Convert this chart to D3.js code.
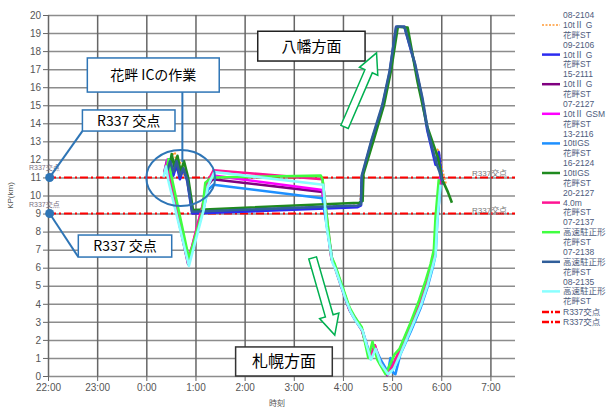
<html>
<head>
<script src="https://d3js.org/d3.v7.min.js"></script>
<style>
  body { margin: 0; background: #fff; }
  .grid line { stroke: #8c8c8c; stroke-width: 1.5; }
  .grid .domain { stroke: none; }
  .vgrid line { stroke: #666; stroke-width: 1.5; }
  .vgrid .domain { stroke: none; }
  .axis text { font-family: "Liberation Sans", Arial, sans-serif; font-size: 10px; fill: #555; }
  .axis line { stroke: #666; }
  .axis .domain { stroke: none; }
  .legend text { font-family: "Liberation Sans", "Noto Sans CJK JP", sans-serif; font-size: 8.5px; fill: #4d5b7c; }
  .reflabel { font-family: "Liberation Sans", "Noto Sans CJK JP", sans-serif; fill: #7a6f7f; }
</style>
</head>
<body>
<svg id="chart" width="609" height="410"></svg>
<script>
// ---- data ----
const seriesNames = ["08-2104", "09-2106", "15-2111", "07-2127", "13-2116", "16-2124", "20-2127", "07-2137", "07-2138", "08-2135"];
const seriesTypes = ["10tⅡ G", "10tⅡ G", "10tⅡ G", "10tⅡ GSM", "10tIGS", "10tIGS", "4.0m", "高速駐正形", "高速駐正形", "高速駐正形"];
const seriesStation = "花畔ST";
const seriesColors = ["#ff9933", "#2b2bf0", "#800080", "#ff00ff", "#1e90ff", "#1f8a1f", "#ff1493", "#40ff40", "#305e9a", "#8affff"];

const s0821 = [["0:27",11.4],["0:31",12.2],["0:35",12.4],["0:37",11.4],["0:41",11.9],["0:45",11.2],["0:49",10.9],["0:57",9.1],["4:17",9.45],["4:21",9.5],["4:23",11.1],["4:36",13.1],["4:49",15.0],["4:58",17.0],["5:06",19.35],["5:16",19.35],["5:28",17.3],["5:37",15.4],["5:44",13.5],["5:52",12.2],["5:56",12.6],["6:02",11.3],["6:06",10.6]];
const s0921 = [["0:26",11.3],["0:29",12.0],["0:33",11.1],["0:37",11.7],["0:41",10.9],["0:45",11.5],["0:50",10.8],["0:56",9.0],["4:18",9.35],["4:22",9.45],["4:23",11.0],["4:35",13.0],["4:48",14.9],["4:57",16.8],["5:05",19.35],["5:15",19.35],["5:27",17.4],["5:36",15.5],["5:43",13.6],["5:53",11.7],["5:57",12.4],["6:01",10.9],["6:03",10.6]];
const s1521 = [["0:22",11.3],["0:25",11.9],["0:28",11.0],["0:51",6.2],["1:09",9.4],["1:14",10.5],["1:21",10.9],["3:35",10.2],["3:46",6.5],["3:50",6.05],["4:02",4.4],["4:08",3.65],["4:14",3.2],["4:23",2.55],["4:33",1.0],["4:39",1.6],["4:45",0.7],["4:54",0.05],["5:01",0.5],["5:09",1.35],["5:22",2.7],["5:34",4.0],["5:42",5.1],["5:48",6.05],["5:52",6.8],["5:54",8.6],["5:58",10.7]];
const s0721a = [["0:23",11.4],["0:26",12.0],["0:29",11.1],["0:51",6.3],["1:09",9.5],["1:14",10.6],["1:22",11.1],["3:35",10.3],["3:46",6.6],["3:50",6.1],["4:02",4.5],["4:08",3.7],["4:14",3.3],["4:23",2.6],["4:33",1.1],["4:39",1.7],["4:45",0.8],["4:54",0.1],["5:01",0.6],["5:09",1.4],["5:22",2.8],["5:34",4.1],["5:42",5.2],["5:48",6.1],["5:52",6.9],["5:54",8.7],["5:58",10.8],["5:59",11.1]];
const s1321 = [["0:23",11.2],["0:26",11.7],["0:29",10.9],["0:52",6.4],["1:10",9.3],["1:15",10.3],["1:22",10.6],["3:35",9.85],["3:47",6.4],["3:51",6.0],["4:03",4.3],["4:09",3.6],["4:15",3.1],["4:24",2.5],["4:34",1.0],["4:40",1.5],["4:46",0.9],["4:55",0.2],["4:58",1.0],["5:01",0.2],["5:04",0.1],["5:10",1.2],["5:23",2.5],["5:35",3.8],["5:43",4.9],["5:49",5.9],["5:53",6.7],["5:55",8.5],["5:59",10.5]];
const s1621 = [["0:28",11.5],["0:31",12.3],["0:34",11.6],["0:38",12.2],["0:42",11.3],["0:46",11.9],["0:51",11.0],["0:57",9.2],["4:20",9.6],["4:24",9.7],["4:25",11.2],["4:37",13.0],["4:50",15.0],["4:59",17.0],["5:07",19.35],["5:19",19.3],["5:31",16.3],["5:43",13.8],["5:56",12.1],["6:01",10.9],["6:08",10.2],["6:13",9.6]];
const s2021 = [["0:22",11.2],["0:25",11.7],["0:28",11.0],["0:51",6.3],["1:09",9.5],["1:14",10.7],["1:22",11.4],["3:35",10.9],["3:46",6.5],["3:50",6.1],["4:02",4.5],["4:08",3.7],["4:14",3.2],["4:23",2.6],["4:33",1.0],["4:39",1.7],["4:45",0.8],["4:54",0.1],["5:01",0.6],["5:09",1.4],["5:22",2.8],["5:34",4.1],["5:42",5.1],["5:48",6.1],["5:52",6.9],["5:54",8.7],["5:58",10.8]];
const s0721b = [["0:24",11.2],["0:27",12.0],["0:30",11.2],["0:52",6.5],["1:08",9.0],["1:12",10.7],["1:20",11.0],["3:33",11.1],["3:35",10.9],["3:46",6.6],["3:50",6.2],["4:02",4.6],["4:08",3.8],["4:14",3.3],["4:23",2.7],["4:31",1.0],["4:36",1.9],["4:42",0.9],["4:52",0.1],["4:59",0.8],["5:03",1.2],["5:09",1.5],["5:22",2.9],["5:33",4.2],["5:41",5.3],["5:47",6.2],["5:51",7.0],["5:53",8.8],["5:57",10.9]];
const s0721c = [["0:26",11.4],["0:29",11.9],["0:33",11.3],["0:37",11.9],["0:41",11.1],["0:45",11.5],["0:50",10.9],["0:56",9.1],["4:18",9.45],["4:22",9.5],["4:23",11.1],["4:35",13.1],["4:48",15.0],["4:57",16.9],["5:05",19.35],["5:15",19.35],["5:28",17.3],["5:37",15.4],["5:44",13.5],["5:54",11.8],["5:58",11.3],["6:01",10.8]];
const s0821b = [["0:21",11.0],["0:24",11.6],["0:27",10.8],["0:52",6.1],["1:10",9.2],["1:15",10.5],["1:23",11.3],["3:36",10.6],["3:40",8.3],["3:47",6.3],["3:51",5.9],["4:03",4.3],["4:09",3.6],["4:15",3.1],["4:24",2.5],["4:34",0.9],["4:40",1.5],["4:46",0.7],["4:55",0.1],["5:02",0.4],["5:10",1.2],["5:23",2.6],["5:35",3.9],["5:43",5.0],["5:49",6.0],["5:53",6.7],["5:55",8.5],["5:59",10.6]];
const seriesValues = [s0821, s0921, s1521, s0721a, s1321, s1621, s2021, s0721b, s0721c, s0821b];

const refNames = ["R337交点", "R337交点"];
const refValues = [11, 9];

const xTickLabels = ["22:00", "23:00", "0:00", "1:00", "2:00", "3:00", "4:00", "5:00", "6:00", "7:00"];
const yTicks = d3.range(0, 21);

// annotations, in chart units (time, KP)
const textBoxes = [
  { text: "八幡方面", t0: "2:16", t1: "4:27", kpTop: 19.1, kpBottom: 17.45, border: "#222", size: 15 },
  { text: "花畔 ICの作業", t0: "22:48", t1: "1:29", kpTop: 17.62, kpBottom: 15.73, border: "#2e75b6", size: 14 },
  { text: "R337 交点", t0: "22:42", t1: "0:35", kpTop: 14.74, kpBottom: 13.57, border: "#2e75b6", size: 14 },
  { text: "R337 交点", t0: "22:37", t1: "0:31", kpTop: 7.81, kpBottom: 6.59, border: "#2e75b6", size: 14 },
  { text: "札幌方面", t0: "1:49", t1: "3:47", kpTop: 1.61, kpBottom: 0, border: "#333", size: 16 }
];
const leaders = [
  [["0:44", 15.73], ["0:44", 11.86]],
  [["22:02", 11.0], ["22:42", 13.57]],
  [["22:02", 9.0], ["22:37", 6.59]]
];
const dots = [["22:02", 11.0], ["22:02", 9.0]];
const arrows = [
  [["4:02", 13.8], ["4:41", 17.9]],
  [["3:23", 6.54], ["3:50", 2.27]]
];

// ---- chart ----
const svg = d3.select("svg#chart");
const mLeft = 48, mRight = 515, mTop = 15, mBottom = 376;

// hours after 22:00
function hrs(s) {
  const [h, m] = s.split(":").map(Number);
  return (h >= 12 ? h - 22 : h + 2) + m / 60;
}

const x = d3.scaleLinear().domain([0, 9.5]).range([mLeft, mRight]);
const y = d3.scaleLinear().domain([0, 20]).range([mBottom, mTop]);
const X = s => x(hrs(s));

let annotations = svg.append("g").attr("id", "annotations");

annotations.append("g")
  .attr("class", "grid")
  .attr("transform", `translate(${mLeft},0)`)
  .call(d3.axisLeft(y).tickValues(yTicks).tickSize(-(mRight - mLeft)).tickFormat(""));

annotations.append("g")
  .attr("class", "vgrid")
  .attr("transform", `translate(0,${mBottom})`)
  .call(d3.axisBottom(x).tickValues(d3.range(0, 10)).tickSize(-(mBottom - mTop)).tickFormat(""));

annotations.append("g")
  .attr("class", "axis")
  .attr("transform", `translate(${mLeft},0)`)
  .call(d3.axisLeft(y).tickValues(yTicks).tickSize(5).tickPadding(2));

annotations.append("g")
  .attr("class", "axis")
  .attr("transform", `translate(0,${mBottom})`)
  .call(d3.axisBottom(x).tickValues(d3.range(0, 10)).tickSize(5).tickPadding(3).tickFormat((d, i) => xTickLabels[i]));

svg.append("text")
  .attr("transform", `translate(13,${(mTop + mBottom) / 2}) rotate(-90)`)
  .attr("text-anchor", "middle")
  .style("font-family", "Liberation Sans, sans-serif").style("font-size", "8px").style("fill", "#555")
  .text("KP(km)");
svg.append("text")
  .attr("x", 277).attr("y", 406)
  .attr("text-anchor", "middle")
  .style("font-family", "Noto Sans CJK JP, sans-serif").style("font-size", "8px").style("fill", "#555")
  .text("時刻");

// reference lines
const refs = svg.append("g").attr("id", "refs");
refValues.forEach((v, i) => {
  refs.append("line")
    .attr("x1", mLeft).attr("x2", mRight)
    .attr("y1", y(v)).attr("y2", y(v))
    .attr("stroke", "#ff0000").attr("stroke-width", 2)
    .attr("stroke-dasharray", "8,3,2,3");
  refs.append("text").attr("class", "reflabel").attr("x", 29).attr("y", y(v) - 7)
    .style("font-size", "7px")
    .text(refNames[i]);
  refs.append("text").attr("class", "reflabel").attr("x", 472).attr("y", y(v) - 1)
    .style("font-size", "8px").style("fill", "#777")
    .text(refNames[i]);
});

// series lines
let lineDrawer = d3.line()
  .x(d => X(d[0]))
  .y(d => y(d[1]))
  .curve(d3.curveLinear);

let chartArea = svg.append("g").attr("id", "chart");
chartArea.selectAll("path.series")
  .data(seriesValues)
  .join("path")
  .attr("class", "series")
  .attr("fill", "none")
  .attr("stroke", (d, i) => seriesColors[i])
  .attr("stroke-width", (d, i) => i === 0 ? 2 : 2.6)
  .attr("stroke-dasharray", (d, i) => i === 0 ? "2,2" : null)
  .attr("stroke-linejoin", "round")
  .attr("d", d => lineDrawer(d));

// legend
const legend = svg.append("g").attr("class", "legend");
seriesNames.forEach((name, i) => {
  const cy = 25 + 29.6 * i;
  legend.append("line")
    .attr("x1", 542).attr("x2", 560).attr("y1", cy).attr("y2", cy)
    .attr("stroke", seriesColors[i]).attr("stroke-width", i === 0 ? 1.5 : 2.5)
    .attr("stroke-dasharray", i === 0 ? "2,1.5" : null);
  [name, seriesTypes[i], seriesStation].forEach((t, j) => {
    legend.append("text").attr("x", 563).attr("y", cy - 9.8 + 9.8 * j + 3).text(t);
  });
});
refNames.forEach((name, i) => {
  const cy = 312 + 10 * i;
  legend.append("line")
    .attr("x1", 542).attr("x2", 560).attr("y1", cy).attr("y2", cy)
    .attr("stroke", "#ff0000").attr("stroke-width", 2.5)
    .attr("stroke-dasharray", "7,2,2,2");
  legend.append("text").attr("x", 563).attr("y", cy + 3).text(name);
});

// callouts
const notes = svg.append("g").attr("id", "notes");
notes.append("ellipse")
  .attr("cx", X("0:42")).attr("cy", y(10.97))
  .attr("rx", X("1:24") - X("0:42")).attr("ry", y(10.97) - y(12.52))
  .attr("fill", "none").attr("stroke", "#2e75b6").attr("stroke-width", 2);

leaders.forEach(l => {
  notes.append("line")
    .attr("x1", X(l[0][0])).attr("y1", y(l[0][1]))
    .attr("x2", X(l[1][0])).attr("y2", y(l[1][1]))
    .attr("stroke", "#2e75b6").attr("stroke-width", 2);
});
dots.forEach(d => {
  notes.append("circle").attr("cx", X(d[0])).attr("cy", y(d[1])).attr("r", 4.5).attr("fill", "#2e75b6");
});

textBoxes.forEach(b => {
  const x0 = X(b.t0), x1 = X(b.t1), y0 = y(b.kpTop), y1 = y(b.kpBottom);
  notes.append("rect")
    .attr("x", x0).attr("y", y0).attr("width", x1 - x0).attr("height", y1 - y0)
    .attr("fill", "#fff").attr("stroke", b.border).attr("stroke-width", 1.5);
  notes.append("text")
    .attr("x", (x0 + x1) / 2).attr("y", (y0 + y1) / 2 + b.size * 0.36)
    .attr("text-anchor", "middle")
    .style("font-family", "Noto Sans CJK JP, sans-serif").style("font-size", b.size + "px").style("fill", "#000")
    .text(b.text);
});

arrows.forEach(a => {
  const p0 = [X(a[0][0]), y(a[0][1])], p1 = [X(a[1][0]), y(a[1][1])];
  const len = Math.hypot(p1[0] - p0[0], p1[1] - p0[1]);
  const d = [(p1[0] - p0[0]) / len, (p1[1] - p0[1]) / len];
  const n = [-d[1], d[0]];
  const sw = 4, hw = 10, hl = 20;
  const b = [p1[0] - d[0] * hl, p1[1] - d[1] * hl];
  const pts = [
    [p0[0] + n[0] * sw, p0[1] + n[1] * sw],
    [b[0] + n[0] * sw, b[1] + n[1] * sw],
    [b[0] + n[0] * hw, b[1] + n[1] * hw],
    p1,
    [b[0] - n[0] * hw, b[1] - n[1] * hw],
    [b[0] - n[0] * sw, b[1] - n[1] * sw],
    [p0[0] - n[0] * sw, p0[1] - n[1] * sw]
  ];
  notes.append("polygon")
    .attr("points", pts.map(p => p.join(",")).join(" "))
    .attr("fill", "#fff").attr("stroke", "#00b050").attr("stroke-width", 1.5);
});
</script>
</body>
</html>
